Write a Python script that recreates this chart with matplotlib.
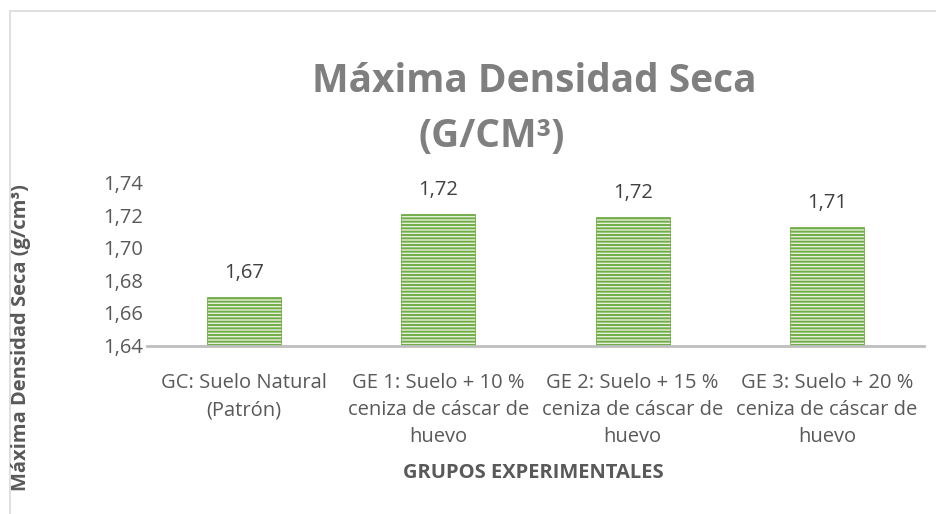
import matplotlib
matplotlib.use("Agg")
import matplotlib.pyplot as plt
from matplotlib.patches import Rectangle

categories = [
    "GC: Suelo Natural\n(Patrón)",
    "GE 1: Suelo + 10 %\nceniza de cáscar de\nhuevo",
    "GE 2: Suelo + 15 %\nceniza de cáscar de\nhuevo",
    "GE 3: Suelo + 20 %\nceniza de cáscar de\nhuevo",
]
values = [1.670, 1.721, 1.719, 1.713]
value_labels = ["1,67", "1,72", "1,72", "1,71"]
yticks = [1.64, 1.66, 1.68, 1.70, 1.72, 1.74]
ytick_labels = ["1,64", "1,66", "1,68", "1,70", "1,72", "1,74"]

FONT = ["Open Sans", "DejaVu Sans"]
plt.rcParams["font.family"] = FONT
plt.rcParams["hatch.linewidth"] = 1.4

W, H = 937, 514
fig = plt.figure(figsize=(W / 100, H / 100), dpi=100)

# chart frame
fig.patches.append(Rectangle((10.5 / W, -0.1), 1.2, 1 - 11 / H + 0.1, transform=fig.transFigure,
                             fill=False, edgecolor="#d9d9d9", linewidth=1.2))

ax = fig.add_axes([147 / W, 1 - 345.5 / H, (924 - 147) / W, (345.5 - 182.7) / H])
x = list(range(len(categories)))
ax.bar(x, [v - 1.64 for v in values], bottom=1.64, width=0.38,
       color="#e6f0dc", edgecolor="#70ad47", linewidth=0.6, hatch="-----")
for xi, v, lab in zip(x, values, value_labels):
    ax.text(xi, v + 0.0085, lab, ha="center", va="bottom", fontsize=14.5, color="#404040")

ax.set_xlim(-0.5, len(categories) - 0.5)
ax.set_ylim(1.64, 1.74)
ax.set_yticks(yticks)
ax.set_yticklabels(ytick_labels, fontsize=14.5, color="#595959")
ax.set_xticks(x)
ax.set_xticklabels(categories, fontsize=14.5, color="#595959", linespacing=1.45)
ax.tick_params(axis="both", length=0)
ax.tick_params(axis="x", pad=20)
ax.tick_params(axis="y", pad=3)
for s in ["top", "right", "left"]:
    ax.spines[s].set_visible(False)
ax.spines["bottom"].set_color("#bfbfbf")
ax.spines["bottom"].set_linewidth(2)

fig.text(21 / W, 1 - 338 / H, "Máxima Densidad Seca (g/cm³)", rotation=90, ha="center", va="center",
         fontsize=14.5, fontweight="bold", color="#595959")
fig.text(533 / W, 1 - 473 / H, "GRUPOS EXPERIMENTALES", ha="center", va="center",
         fontsize=14.5, fontweight="bold", color="#595959")
fig.text(534 / W, 1 - 92 / H, "Máxima Densidad Seca", ha="center", va="baseline",
         fontsize=28, fontweight="bold", color="#7f7f7f")
fig.text(492 / W, 1 - 147 / H, "(G/CM³)", ha="center", va="baseline",
         fontsize=28, fontweight="bold", color="#7f7f7f")

fig.savefig("out.png", dpi=100)
